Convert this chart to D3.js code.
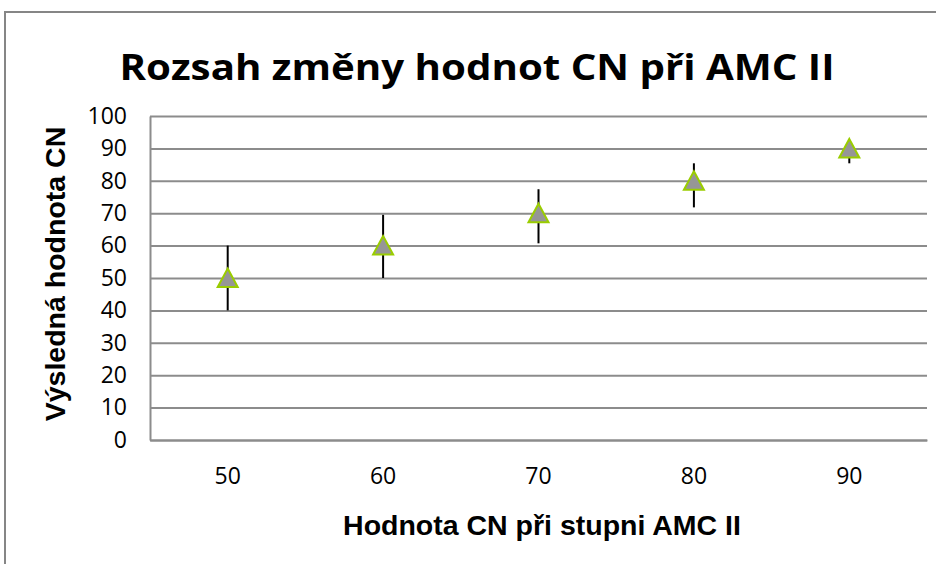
<!DOCTYPE html>
<html>
<head>
<meta charset="utf-8">
<script src="https://cdn.jsdelivr.net/npm/d3@7"></script>
<style>
  body { margin: 0; background: #fff; }
  svg { display: block; }
  .tick text { font-family: "Open Sans", sans-serif; font-size: 23px; fill: #000; }
</style>
</head>
<body>
<svg class="chart" width="936" height="564"></svg>
<script>
// values
const categories = [50, 60, 70, 80, 90];
const values = [50, 60, 70, 80, 90];
const lower = [40, 50, 60.7, 71.8, 85.4];
const upper = [60, 69.5, 77.4, 85.4, 92];
const yTicks = [0, 10, 20, 30, 40, 50, 60, 70, 80, 90, 100];

const svg = d3.select('.chart');
const margin = { left: 150, top: 116, right: 9, bottom: 124 };
const width = +svg.attr('width') - margin.left - margin.right;
const height = +svg.attr('height') - margin.top - margin.bottom;

const data = categories.map((c, i) => ({ cat: c, value: values[i], lo: lower[i], hi: upper[i] }));

// outer chart frame
svg.append('rect')
    .attr('x', 5).attr('y', 12)
    .attr('width', 960).attr('height', 600)
    .attr('fill', 'none')
    .attr('stroke', '#868686')
    .attr('stroke-width', 2);

svg.append('text')
    .attr('x', 477)
    .attr('y', 80)
    .attr('text-anchor', 'middle')
    .attr('font-family', 'Open Sans, sans-serif')
    .attr('font-weight', 700)
    .attr('font-size', 35)
    .attr('textLength', 715)
    .attr('lengthAdjust', 'spacingAndGlyphs')
    .text('Rozsah změny hodnot CN při AMC II');

const x = d3.scaleBand()
    .domain(categories)
    .range([0, width]);

const y = d3.scaleLinear()
    .domain([0, 100])
    .range([height, 0]);

const g = svg.append('g')
    .attr('transform', `translate(${margin.left} ${margin.top})`);

// gridlines
g.append('g')
    .call(d3.axisLeft(y).tickValues(yTicks).tickSize(-width).tickFormat(''))
    .call(s => s.select('.domain').remove())
    .selectAll('line')
    .attr('stroke', '#8c8c8c')
    .attr('stroke-width', 2);

const yAxisG = g.append('g')
    .call(d3.axisLeft(y).tickValues(yTicks).tickSize(0).tickPadding(23));
yAxisG.select('.domain').attr('stroke', '#8c8c8c').attr('stroke-width', 2);

const xAxisG = g.append('g')
    .attr('transform', `translate(0, ${height})`)
    .call(d3.axisBottom(x).tickSize(0).tickPadding(28));
xAxisG.select('.domain').attr('stroke', '#8c8c8c').attr('stroke-width', 2);

// error bars
g.selectAll('.err')
    .data(data)
    .enter()
    .append('line')
    .attr('class', 'err')
    .attr('x1', d => x(d.cat) + x.bandwidth() / 2)
    .attr('x2', d => x(d.cat) + x.bandwidth() / 2)
    .attr('y1', d => y(d.lo))
    .attr('y2', d => y(d.hi))
    .attr('stroke', '#000')
    .attr('stroke-width', 2);

// triangle markers, centred on the point
const tri = 'M0,-9.5L10,9L-10,9Z';
g.selectAll('.pt')
    .data(data)
    .enter()
    .append('path')
    .attr('class', 'pt')
    .attr('transform', d => `translate(${x(d.cat) + x.bandwidth() / 2} ${y(d.value)})`)
    .attr('d', tri)
    .attr('fill', '#969696')
    .attr('stroke', '#9acd00')
    .attr('stroke-width', 2)
    .attr('stroke-linejoin', 'miter');

svg.append('text')
    .attr('x', 542)
    .attr('y', 535)
    .attr('text-anchor', 'middle')
    .attr('font-family', 'Liberation Sans, Arial, sans-serif')
    .attr('font-weight', 700)
    .attr('font-size', 28.5)
    .text('Hodnota CN při stupni AMC II');

svg.append('text')
    .attr('transform', 'translate(65, 274) rotate(-90)')
    .attr('text-anchor', 'middle')
    .attr('font-family', 'Liberation Sans, Arial, sans-serif')
    .attr('font-weight', 700)
    .attr('font-size', 28.5)
    .text('Výsledná hodnota CN');
</script>
</body>
</html>
